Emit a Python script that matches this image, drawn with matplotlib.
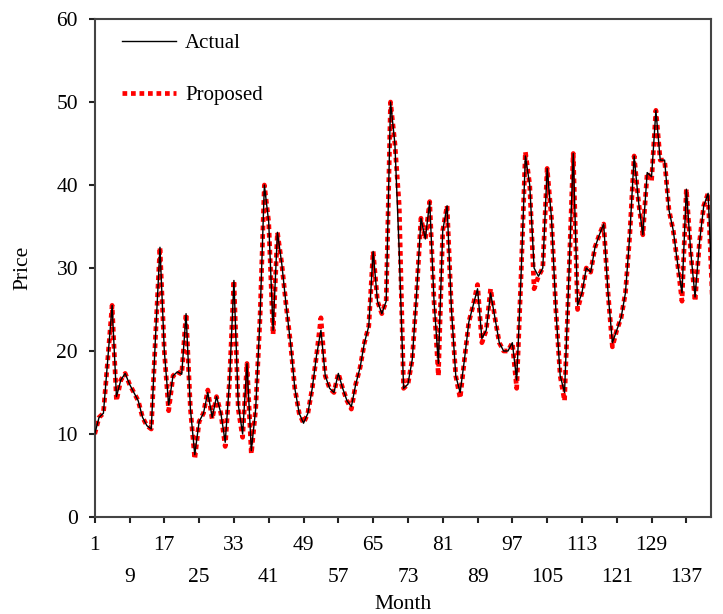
import matplotlib
matplotlib.use("Agg")
import matplotlib.pyplot as plt

months = list(range(1, 144))
actual = [10.0, 12.0, 12.5, 19.0, 25.5, 14.5, 16.5, 17.3, 16.0, 15.0,
          14.0, 12.0, 11.0, 10.6, 22.0, 32.5, 20.0, 13.5, 17.0, 17.5,
          17.2, 24.5, 13.0, 7.5, 11.5, 12.5, 15.0, 12.0, 14.5, 12.5,
          9.0, 16.5, 28.5, 13.5, 10.0, 18.5, 8.0, 13.0, 24.0, 40.0,
          35.5, 22.5, 34.3, 30.5, 25.5, 21.0, 15.5, 12.5, 11.3, 12.5,
          15.5, 19.5, 22.5, 17.0, 15.5, 15.0, 17.3, 15.5, 14.0, 13.3,
          16.0, 18.0, 21.0, 23.0, 32.0, 26.0, 24.5, 26.0, 50.0, 45.0,
          32.0, 15.5, 16.0, 19.0, 27.0, 36.0, 33.5, 38.0, 26.0, 18.5,
          34.5, 37.5, 25.0, 17.0, 15.0, 19.0, 23.5, 25.5, 27.5, 21.5,
          22.5, 27.0, 24.0, 21.0, 20.0, 20.0, 21.0, 16.5, 29.0, 43.5,
          40.0, 30.0, 29.0, 30.0, 42.0, 36.0, 25.0, 17.0, 15.0, 29.0,
          43.8, 25.5, 27.0, 30.0, 29.5, 32.5, 34.0, 35.3, 27.0, 21.0,
          22.5, 24.0, 27.0, 34.0, 43.5, 38.0, 34.0, 41.5, 41.0, 49.0,
          43.0, 43.0, 37.0, 34.5, 30.5, 27.0, 39.5, 32.0, 26.5, 33.0,
          37.5, 39.0, 26.5]
proposed = [10.0, 12.0, 12.5, 19.0, 25.5, 14.0, 16.5, 17.3, 16.0, 15.0,
            14.0, 12.0, 11.0, 10.6, 22.0, 32.5, 20.0, 12.8, 17.0, 17.5,
            17.2, 24.5, 13.0, 7.0, 11.5, 12.5, 15.3, 11.8, 14.5, 12.5,
            8.5, 16.5, 28.5, 13.0, 9.6, 18.5, 7.6, 13.0, 24.0, 40.0,
            35.5, 22.0, 34.3, 30.5, 25.5, 21.0, 15.5, 12.5, 11.3, 12.5,
            15.5, 19.5, 24.0, 17.0, 15.5, 15.0, 17.3, 15.5, 14.0, 13.0,
            16.0, 18.0, 21.0, 23.0, 32.0, 26.0, 24.5, 26.0, 50.0, 45.0,
            37.5, 15.5, 16.0, 19.0, 27.0, 36.0, 33.5, 38.0, 26.0, 17.0,
            34.5, 37.5, 25.0, 17.0, 14.3, 19.0, 23.5, 25.5, 28.0, 21.0,
            22.5, 27.5, 24.0, 21.0, 20.0, 20.0, 21.0, 15.5, 29.0, 44.0,
            40.0, 27.5, 29.0, 30.0, 42.0, 36.0, 25.0, 17.0, 14.0, 29.0,
            43.8, 25.0, 27.0, 30.0, 29.5, 32.5, 34.0, 35.3, 27.0, 20.5,
            22.5, 24.0, 27.0, 34.0, 43.5, 38.0, 34.0, 41.5, 40.5, 49.0,
            43.0, 43.0, 37.0, 34.5, 30.5, 26.0, 39.5, 32.0, 26.0, 33.0,
            37.5, 39.0, 26.0]
xticks = list(range(1, 138, 8))
yticks = [0, 10, 20, 30, 40, 50, 60]

plt.rcParams['font.family'] = ['Liberation Serif', 'DejaVu Serif']

fig = plt.figure(figsize=(7.23, 6.14), dpi=100)
ax = fig.add_axes([0.131, 0.158, 0.852, 0.811])

lp, = ax.plot(months, proposed, color='red', linestyle=(0, (1, 0.8)), lw=3.4,
              label='Proposed', zorder=2)
la, = ax.plot(months, actual, color='black', lw=1.0, label='Actual', zorder=3)

ax.set_xlim(1, 142.6)
ax.set_ylim(0, 60)
ax.set_yticks(yticks)
ax.set_xticks(xticks)
ax.set_xticklabels([str(v) if i % 2 == 0 else '\n' + str(v) for i, v in enumerate(xticks)])
ax.tick_params(axis='both', direction='out', length=4, width=1.5, labelsize=15.5, color='#222222')
ax.tick_params(axis='x', pad=10)
ax.tick_params(axis='y', pad=8)
for t in ax.get_xticklabels():
    t.set_linespacing(1.9)
for s in ax.spines.values():
    s.set_color('#444444')
    s.set_linewidth(1.5)

ax.set_xlabel('Month', fontsize=15.5, labelpad=6)
ax.set_ylabel('Price', fontsize=15.5, labelpad=17)

leg = ax.legend(handles=[la, lp], loc='upper left', frameon=False, fontsize=15,
                labelspacing=1.55, handlelength=2.6, handletextpad=0.45,
                borderaxespad=0.3, bbox_to_anchor=(0.02, 1.0))

fig.savefig('out.png', dpi=100)
